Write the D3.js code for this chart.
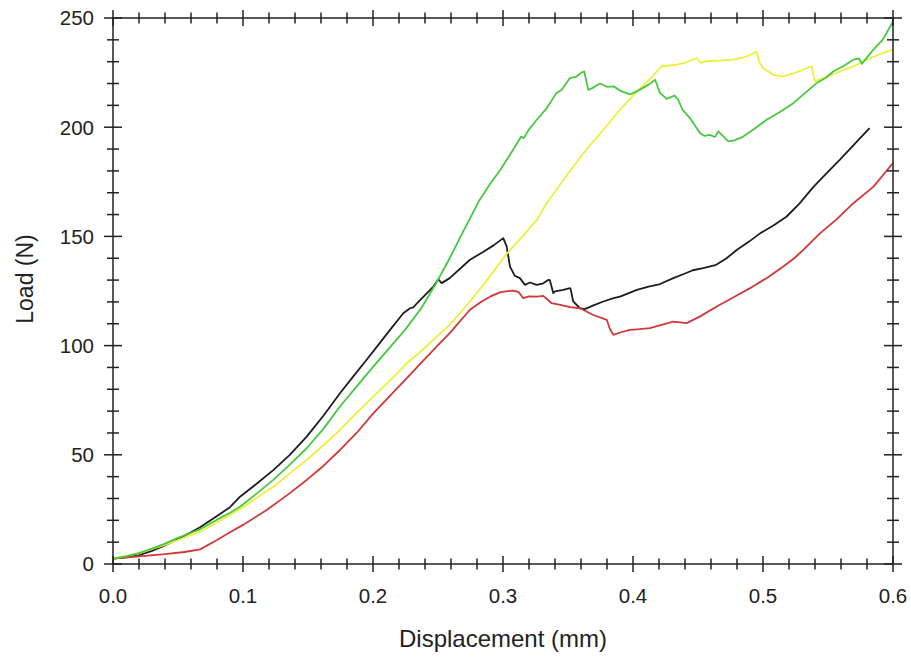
<!DOCTYPE html>
<html>
<head>
<meta charset="utf-8">
<script src="https://cdn.jsdelivr.net/npm/d3@7"></script>
<style>
  html, body { margin: 0; padding: 0; background: #fff; }
  svg { display: block; font-family: "Liberation Sans", Arial, sans-serif; }
</style>
</head>
<body>
<svg id="chart" width="911" height="658"></svg>
<script>
// ---- data (displacement mm, load N) ----
const xTickLabels = ["0.0", "0.1", "0.2", "0.3", "0.4", "0.5", "0.6"];
const yTickLabels = ["0", "50", "100", "150", "200", "250"];

const blackCurve = [[0,2.5],[0.01,3],[0.02,4],[0.03,6],[0.04,8.5],[0.05,11.5],[0.06,14.5],[0.067,16.8],[0.08,22],[0.09,26],[0.0977,30.8],[0.11,36.5],[0.1233,43],[0.136,50],[0.149,58.3],[0.162,68],[0.1746,78.2],[0.185,86],[0.1951,93.5],[0.205,101],[0.2131,107.2],[0.2233,114.8],[0.2285,117.1],[0.231,117.5],[0.234,119.5],[0.2464,127],[0.2503,130.4],[0.2528,128.6],[0.259,130.9],[0.2746,139.3],[0.285,143],[0.293,146],[0.3002,149.2],[0.3028,145.4],[0.3054,136.2],[0.309,132],[0.313,130.9],[0.3169,127.8],[0.3208,128.9],[0.326,127.8],[0.331,128.5],[0.335,130.1],[0.336,130],[0.3387,124],[0.34,124.8],[0.3464,125.5],[0.3515,126.3],[0.352,126],[0.354,120.2],[0.3592,117.1],[0.363,116.7],[0.37,118.5],[0.3772,120.2],[0.385,121.7],[0.39,122.4],[0.403,125.5],[0.412,127],[0.42,128],[0.431,130.9],[0.44,133],[0.446,134.5],[0.454,135.5],[0.464,137],[0.472,140],[0.48,143.9],[0.489,147.5],[0.498,151.5],[0.508,155],[0.518,159],[0.528,165],[0.539,172.8],[0.549,179],[0.559,185],[0.57,192],[0.582,199.6]];

const redCurve = [[0,2.5],[0.02,3.5],[0.04,4.5],[0.055,5.5],[0.067,6.7],[0.08,11],[0.09,14.5],[0.1,17.9],[0.1182,24.7],[0.135,32],[0.149,38.5],[0.162,45],[0.1746,52.2],[0.1874,60],[0.2002,69],[0.213,77],[0.226,85.1],[0.2385,93],[0.2515,101.1],[0.259,105.7],[0.2746,116.4],[0.283,120],[0.29,122.4],[0.298,124.5],[0.308,125.2],[0.312,124.5],[0.3156,121.7],[0.32,122.5],[0.326,122.4],[0.331,122.8],[0.3374,119.4],[0.345,118.5],[0.3515,117.6],[0.3592,117.1],[0.3695,114],[0.3798,111.8],[0.3823,107.5],[0.385,104.9],[0.39,106],[0.3977,107.2],[0.405,107.5],[0.413,108],[0.422,109.5],[0.431,111],[0.4413,110.3],[0.452,113.5],[0.4644,117.9],[0.477,122],[0.49,126.3],[0.503,131],[0.5156,136.2],[0.524,140],[0.531,143.8],[0.544,151.5],[0.557,158],[0.5695,165.2],[0.585,172.8],[0.6,183.6]];

const greenCurve = [[0,2.5],[0.01,3.5],[0.02,5],[0.03,7],[0.04,9.3],[0.05,12],[0.06,14.3],[0.067,15.9],[0.08,20.3],[0.09,23.5],[0.0977,26.2],[0.11,32],[0.1233,38.5],[0.136,45.5],[0.149,53],[0.162,62],[0.1746,72.1],[0.187,81],[0.2002,90.4],[0.212,98.5],[0.2246,107.2],[0.237,117],[0.248,128],[0.259,140],[0.27,153],[0.282,166.7],[0.29,174],[0.298,180.5],[0.306,188],[0.314,195.7],[0.316,195],[0.32,199],[0.326,203.4],[0.334,209],[0.341,215.6],[0.345,217],[0.3515,222.5],[0.356,223],[0.3605,225.1],[0.3625,225.5],[0.3656,217.1],[0.369,218],[0.3746,220],[0.38,218.5],[0.385,218.7],[0.391,216.5],[0.3977,215],[0.405,217.1],[0.412,219.5],[0.417,221.7],[0.4208,215.6],[0.426,213],[0.432,214.5],[0.4348,212.6],[0.438,208],[0.4438,204.2],[0.4515,197.3],[0.455,196],[0.459,196.5],[0.463,195.5],[0.4656,198.1],[0.4733,193.5],[0.478,194],[0.4848,195.7],[0.494,199.5],[0.5028,203.4],[0.513,207],[0.5233,211],[0.532,215.5],[0.5413,220.2],[0.548,222.5],[0.554,225.5],[0.562,228],[0.5695,230.9],[0.574,231.5],[0.576,229],[0.5849,235.5],[0.592,240],[0.6,248.4]];

const yellowCurve = [[0,2.5],[0.02,5],[0.04,8.8],[0.05,11],[0.067,14.8],[0.08,19],[0.1,26],[0.1233,35.4],[0.136,41.5],[0.149,47.6],[0.162,54.5],[0.1746,61.4],[0.187,69],[0.2002,76.6],[0.213,84],[0.226,91.9],[0.238,98],[0.249,104.1],[0.259,109.5],[0.2746,120.2],[0.289,131],[0.3028,142],[0.315,150],[0.326,157.6],[0.3336,165.2],[0.349,178],[0.3644,190],[0.3746,197],[0.39,208],[0.405,217.5],[0.413,222],[0.422,227.9],[0.4336,228.6],[0.44,229.5],[0.449,231.7],[0.452,229.5],[0.4567,230.2],[0.466,230.5],[0.477,230.9],[0.485,232],[0.49,233],[0.495,234.7],[0.497,230],[0.5,227.1],[0.508,224],[0.5156,223.3],[0.525,225],[0.5374,227.9],[0.54,221],[0.549,223],[0.559,225.5],[0.57,228],[0.58,230.9],[0.59,233.5],[0.6,235.5]];

const seriesList = [
  { name: "black", data: blackCurve, color: "#1e1e1e" },
  { name: "red", data: redCurve, color: "#d0383a" },
  { name: "yellow", data: yellowCurve, color: "#f0ee3c" },
  { name: "green", data: greenCurve, color: "#48c840" }
];

// ---- layout ----
const svg = d3.select("#chart");
const plotL = 113, plotR = 893, plotT = 18, plotB = 564;
const x = d3.scaleLinear().domain([0, 0.6]).range([plotL, plotR]);
const y = d3.scaleLinear().domain([0, 250]).range([plotB, plotT]);

svg.append("rect").attr("width", 911).attr("height", 658).attr("fill", "#fff");

// curves
const line = d3.line().x(d => x(d[0])).y(d => y(d[1]));
svg.append("g").selectAll("path").data(seriesList).join("path")
  .attr("d", d => line(d.data))
  .attr("fill", "none")
  .attr("stroke", d => d.color)
  .attr("stroke-width", 1.8)
  .attr("stroke-linejoin", "round");

// frame
const axisColor = "#222";
svg.append("rect").attr("x", plotL).attr("y", plotT)
  .attr("width", plotR - plotL).attr("height", plotB - plotT)
  .attr("fill", "none").attr("stroke", axisColor).attr("stroke-width", 1.5);

const xt = x.ticks(30);
const yt = y.ticks(25);
const isMajorX = v => Math.abs(Math.round(v * 10) - v * 10) < 1e-6;
const isMajorY = v => v % 50 === 0;
const tg = svg.append("g").attr("stroke", axisColor).attr("stroke-width", 1.5);
[plotT, plotB].forEach(yy => {
  tg.append("g").selectAll("line").data(xt).join("line")
    .attr("x1", d => x(d)).attr("x2", d => x(d))
    .attr("y1", d => yy - (isMajorX(d) ? 8 : 5.5))
    .attr("y2", d => yy + (isMajorX(d) ? 8 : 5.5));
});
[plotL, plotR].forEach(xx => {
  tg.append("g").selectAll("line").data(yt).join("line")
    .attr("y1", d => y(d)).attr("y2", d => y(d))
    .attr("x1", d => xx - (isMajorY(d) ? 9 : 6))
    .attr("x2", d => xx + (isMajorY(d) ? 9 : 6));
});

// tick labels
const xMajor = xt.filter(isMajorX);
svg.append("g").selectAll("text").data(xMajor).join("text")
  .attr("x", d => x(d)).attr("y", 603)
  .attr("text-anchor", "middle")
  .attr("font-size", 20.5).attr("fill", "#222")
  .text((d, i) => xTickLabels[i]);

const yMajor = yt.filter(isMajorY);
svg.append("g").selectAll("text").data(yMajor).join("text")
  .attr("x", 94).attr("y", d => y(d))
  .attr("dy", "0.36em")
  .attr("text-anchor", "end")
  .attr("font-size", 20.5).attr("fill", "#222")
  .text((d, i) => yTickLabels[i]);

// axis titles
svg.append("text")
  .attr("x", (plotL + plotR) / 2).attr("y", 647)
  .attr("text-anchor", "middle").attr("font-size", 24).attr("fill", "#222")
  .text("Displacement (mm)");
svg.append("text")
  .attr("transform", "translate(33,279) rotate(-90)")
  .attr("text-anchor", "middle").attr("font-size", 23).attr("fill", "#222")
  .text("Load (N)");
</script>
</body>
</html>
